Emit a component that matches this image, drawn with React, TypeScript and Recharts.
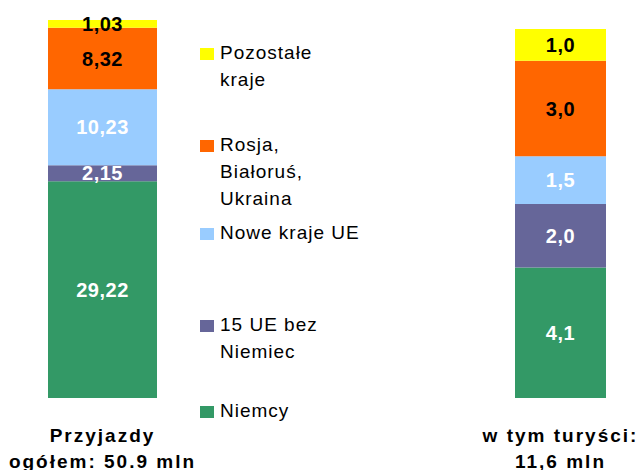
import { BarChart, Bar, XAxis, YAxis, LabelList } from "recharts";

const seriesKeys = ["niemcy", "ue15", "nowe", "rosja", "pozostale"];
const seriesNames = [
  ["Niemcy"],
  ["15 UE bez", "Niemiec"],
  ["Nowe kraje UE"],
  ["Rosja,", "Białoruś,", "Ukraina"],
  ["Pozostałe", "kraje"],
];
const seriesColors = ["#339966", "#666699", "#99CCFF", "#FF6600", "#FFFF00"];
const labelColors = ["#ffffff", "#ffffff", "#ffffff", "#000000", "#000000"];

const totalLabel = ["Przyjazdy", "ogółem: 50.9 mln"];
const totalValues = [29.22, 2.15, 10.23, 8.32, 1.03];

const touristLabel = ["w tym turyści:", "11,6 mln"];
const touristValues = [4.1, 2.0, 1.5, 3.0, 1.0];

// legend rows: cap-top y of first line
const legendTops = [403, 317, 225, 137, 45];

const FONT = "'Liberation Sans', Arial, sans-serif";

function toRow(lines: string[], values: number[]) {
  const row: any = { name: lines.join("|") };
  seriesKeys.forEach((k, i) => (row[k] = values[i]));
  return row;
}

const CatTick = (props: any) => {
  const { x, payload } = props;
  const lines = String(payload.value).split("|");
  return (
    <g>
      {lines.map((l, i) => (
        <text
          key={i}
          x={x}
          y={442 + i * 26}
          textAnchor="middle"
          fontFamily={FONT}
          fontWeight="bold"
          fontSize={19}
          letterSpacing={2}
          fill="#000"
        >
          {l}
        </text>
      ))}
    </g>
  );
};

function Stack({
  lines,
  values,
  digits,
  width,
  left,
  right,
  top,
}: {
  lines: string[];
  values: number[];
  digits: number;
  width: number;
  left: number;
  right: number;
  top: number;
}) {
  const data = [toRow(lines, values)];
  const total = values.reduce((a, b) => a + b, 0);
  return (
    <BarChart
      width={width}
      height={470}
      data={data}
      margin={{ top, bottom: 0, left, right }}
      barCategoryGap={0}
    >
      <XAxis
        dataKey="name"
        axisLine={false}
        tickLine={false}
        height={72}
        tick={<CatTick />}
        interval={0}
      />
      <YAxis hide domain={[0, total]} />
      {seriesKeys.map((k, i) => (
        <Bar
          key={k}
          dataKey={k}
          stackId="a"
          fill={seriesColors[i]}
          isAnimationActive={false}
        >
          <LabelList
            dataKey={k}
            position="center"
            formatter={(v: any) => Number(v).toFixed(digits).replace(".", ",")}
            fill={labelColors[i]}
            fontFamily={FONT}
            fontWeight="bold"
            fontSize={20}
            letterSpacing={0.5}
          />
        </Bar>
      ))}
    </BarChart>
  );
}

export default function App() {
  return (
    <div
      style={{
        position: "absolute",
        left: 0,
        top: 0,
        width: 640,
        height: 470,
        background: "#fff",
        fontFamily: FONT,
      }}
    >
      <div style={{ position: "absolute", left: 0, top: 0 }}>
        <Stack
          lines={totalLabel}
          values={totalValues}
          digits={2}
          width={210}
          left={48}
          right={53}
          top={20}
        />
      </div>
      <div style={{ position: "absolute", left: 440, top: 0 }}>
        <Stack
          lines={touristLabel}
          values={touristValues}
          digits={1}
          width={200}
          left={75}
          right={34}
          top={29}
        />
      </div>
      {seriesKeys.map((k, i) => (
        <div
          key={k}
          style={{ position: "absolute", left: 200, top: legendTops[i] - 6 }}
        >
          <div
            style={{
              position: "absolute",
              left: 0,
              top: 9,
              width: 14,
              height: 12,
              background: seriesColors[i],
            }}
          />
          <div
            style={{
              position: "absolute",
              left: 20,
              top: 0,
              fontSize: 19,
              lineHeight: "27px",
              letterSpacing: 1,
              whiteSpace: "nowrap",
              color: "#000",
            }}
          >
            {seriesNames[i].map((l, j) => (
              <div key={j}>{l}</div>
            ))}
          </div>
        </div>
      ))}
    </div>
  );
}
